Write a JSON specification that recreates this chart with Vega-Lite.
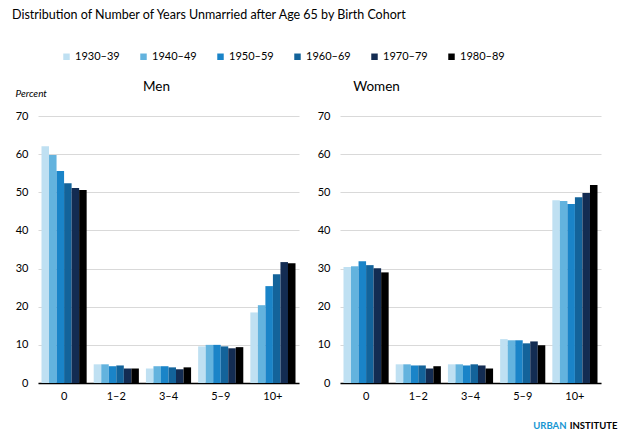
{
  "$schema": "https://vega.github.io/schema/vega-lite/v6.json",
  "padding": {"left": 12, "top": 8, "right": 4, "bottom": 2},
  "config": {
    "font": "Lato",
    "view": {"stroke": null},
    "axis": {"labelFont": "Lato", "labelFontSize": 11, "labelColor": "#000000", "titleFont": "Lato", "titleColor": "#000000"},
    "title": {"font": "Lato", "color": "#000000"},
    "legend": {"labelFont": "Lato"}
  },
  "title": {"text": "Distribution of Number of Years Unmarried after Age 65 by Birth Cohort", "anchor": "start", "fontSize": 12.5, "fontWeight": "normal", "dx": -3, "offset": 30},
  "data": {"values": [
    {"gender": "Men", "years": "0", "cohort": "1930–39", "percent": 62.1},
    {"gender": "Men", "years": "0", "cohort": "1940–49", "percent": 59.8},
    {"gender": "Men", "years": "0", "cohort": "1950–59", "percent": 55.6},
    {"gender": "Men", "years": "0", "cohort": "1960–69", "percent": 52.4},
    {"gender": "Men", "years": "0", "cohort": "1970–79", "percent": 51.1},
    {"gender": "Men", "years": "0", "cohort": "1980–89", "percent": 50.6},
    {"gender": "Men", "years": "1–2", "cohort": "1930–39", "percent": 4.9},
    {"gender": "Men", "years": "1–2", "cohort": "1940–49", "percent": 4.9},
    {"gender": "Men", "years": "1–2", "cohort": "1950–59", "percent": 4.4},
    {"gender": "Men", "years": "1–2", "cohort": "1960–69", "percent": 4.6},
    {"gender": "Men", "years": "1–2", "cohort": "1970–79", "percent": 3.8},
    {"gender": "Men", "years": "1–2", "cohort": "1980–89", "percent": 3.8},
    {"gender": "Men", "years": "3–4", "cohort": "1930–39", "percent": 3.8},
    {"gender": "Men", "years": "3–4", "cohort": "1940–49", "percent": 4.4},
    {"gender": "Men", "years": "3–4", "cohort": "1950–59", "percent": 4.4},
    {"gender": "Men", "years": "3–4", "cohort": "1960–69", "percent": 4.1},
    {"gender": "Men", "years": "3–4", "cohort": "1970–79", "percent": 3.6},
    {"gender": "Men", "years": "3–4", "cohort": "1980–89", "percent": 4.1},
    {"gender": "Men", "years": "5–9", "cohort": "1930–39", "percent": 9.6},
    {"gender": "Men", "years": "5–9", "cohort": "1940–49", "percent": 10.0},
    {"gender": "Men", "years": "5–9", "cohort": "1950–59", "percent": 10.0},
    {"gender": "Men", "years": "5–9", "cohort": "1960–69", "percent": 9.6},
    {"gender": "Men", "years": "5–9", "cohort": "1970–79", "percent": 9.1},
    {"gender": "Men", "years": "5–9", "cohort": "1980–89", "percent": 9.4},
    {"gender": "Men", "years": "10+", "cohort": "1930–39", "percent": 18.5},
    {"gender": "Men", "years": "10+", "cohort": "1940–49", "percent": 20.4},
    {"gender": "Men", "years": "10+", "cohort": "1950–59", "percent": 25.4},
    {"gender": "Men", "years": "10+", "cohort": "1960–69", "percent": 28.5},
    {"gender": "Men", "years": "10+", "cohort": "1970–79", "percent": 31.7},
    {"gender": "Men", "years": "10+", "cohort": "1980–89", "percent": 31.4},
    {"gender": "Women", "years": "0", "cohort": "1930–39", "percent": 30.4},
    {"gender": "Women", "years": "0", "cohort": "1940–49", "percent": 30.6},
    {"gender": "Women", "years": "0", "cohort": "1950–59", "percent": 31.9},
    {"gender": "Women", "years": "0", "cohort": "1960–69", "percent": 30.9},
    {"gender": "Women", "years": "0", "cohort": "1970–79", "percent": 30.1},
    {"gender": "Women", "years": "0", "cohort": "1980–89", "percent": 29.0},
    {"gender": "Women", "years": "1–2", "cohort": "1930–39", "percent": 4.9},
    {"gender": "Women", "years": "1–2", "cohort": "1940–49", "percent": 4.9},
    {"gender": "Women", "years": "1–2", "cohort": "1950–59", "percent": 4.6},
    {"gender": "Women", "years": "1–2", "cohort": "1960–69", "percent": 4.6},
    {"gender": "Women", "years": "1–2", "cohort": "1970–79", "percent": 3.8},
    {"gender": "Women", "years": "1–2", "cohort": "1980–89", "percent": 4.4},
    {"gender": "Women", "years": "3–4", "cohort": "1930–39", "percent": 4.9},
    {"gender": "Women", "years": "3–4", "cohort": "1940–49", "percent": 4.9},
    {"gender": "Women", "years": "3–4", "cohort": "1950–59", "percent": 4.6},
    {"gender": "Women", "years": "3–4", "cohort": "1960–69", "percent": 4.9},
    {"gender": "Women", "years": "3–4", "cohort": "1970–79", "percent": 4.6},
    {"gender": "Women", "years": "3–4", "cohort": "1980–89", "percent": 3.8},
    {"gender": "Women", "years": "5–9", "cohort": "1930–39", "percent": 11.5},
    {"gender": "Women", "years": "5–9", "cohort": "1940–49", "percent": 11.2},
    {"gender": "Women", "years": "5–9", "cohort": "1950–59", "percent": 11.2},
    {"gender": "Women", "years": "5–9", "cohort": "1960–69", "percent": 10.4},
    {"gender": "Women", "years": "5–9", "cohort": "1970–79", "percent": 10.9},
    {"gender": "Women", "years": "5–9", "cohort": "1980–89", "percent": 9.9},
    {"gender": "Women", "years": "10+", "cohort": "1930–39", "percent": 47.9},
    {"gender": "Women", "years": "10+", "cohort": "1940–49", "percent": 47.7},
    {"gender": "Women", "years": "10+", "cohort": "1950–59", "percent": 46.9},
    {"gender": "Women", "years": "10+", "cohort": "1960–69", "percent": 48.7},
    {"gender": "Women", "years": "10+", "cohort": "1970–79", "percent": 49.8},
    {"gender": "Women", "years": "10+", "cohort": "1980–89", "percent": 51.9}
  ]},
  "spacing": 18,
  "hconcat": [
    {
      "transform": [{"filter": "datum.gender === 'Men'"}],
      "width": 261,
      "height": 267,
      "mark": {"type": "bar"},
      "encoding": {
        "x": {"field": "years", "type": "nominal", "sort": ["0", "1–2", "3–4", "5–9", "10+"],
              "scale": {"paddingInner": 0.135, "paddingOuter": 0.067},
              "axis": {"title": "Men", "titleAlign": "center", "titleBaseline": "alphabetic", "titleX": 118, "titleY": -293, "titleFontSize": 13.5, "titleFontWeight": "normal", "labelAngle": 0, "ticks": false, "domainColor": "#000000", "domainWidth": 1.5, "labelPadding": 7, "grid": false}},
        "xOffset": {"field": "cohort", "type": "nominal", "sort": ["1930–39", "1940–49", "1950–59", "1960–69", "1970–79", "1980–89"]},
        "y": {"field": "percent", "type": "quantitative", "scale": {"domain": [0, 70]},
              "axis": {"values": [0, 10, 20, 30, 40, 50, 60, 70], "title": "Percent", "titleAngle": 0, "titleAlign": "left", "titleBaseline": "alphabetic", "titleX": -23, "titleY": -20, "titleFontStyle": "italic", "titleFontWeight": "normal", "titleFontSize": 10, "domain": false, "ticks": false, "labelPadding": 10, "gridColor": "#d9d9d9"}},
        "color": {"field": "cohort", "type": "nominal",
                  "scale": {"domain": ["1930–39", "1940–49", "1950–59", "1960–69", "1970–79", "1980–89"], "range": ["#bfe0f2", "#63b3de", "#1a84c8", "#13639a", "#132c52", "#000000"]},
                  "legend": {"title": null, "orient": "none", "direction": "horizontal", "columns": 6, "legendX": 23, "legendY": -65, "symbolType": "square", "symbolSize": 42, "symbolStrokeWidth": 0, "labelFontSize": 11, "labelOffset": 3, "columnPadding": 18, "labelColor": "#000000"}}
      }
    },
    {
      "transform": [{"filter": "datum.gender === 'Women'"}],
      "title": {"text": "Women", "fontSize": 13.5, "fontWeight": "normal", "dx": -94, "offset": 17},
      "width": 261,
      "height": 267,
      "mark": {"type": "bar"},
      "encoding": {
        "x": {"field": "years", "type": "nominal", "sort": ["0", "1–2", "3–4", "5–9", "10+"],
              "scale": {"paddingInner": 0.135, "paddingOuter": 0.067},
              "axis": {"title": "INSTITUTE", "titleAlign": "right", "titleBaseline": "alphabetic", "titleX": 277, "titleY": 45, "titleFontSize": 9.5, "titleFontWeight": "bold", "labelAngle": 0, "ticks": false, "domainColor": "#000000", "domainWidth": 1.5, "labelPadding": 7, "grid": false}},
        "xOffset": {"field": "cohort", "type": "nominal", "sort": ["1930–39", "1940–49", "1950–59", "1960–69", "1970–79", "1980–89"]},
        "y": {"field": "percent", "type": "quantitative", "scale": {"domain": [0, 70]},
              "axis": {"values": [0, 10, 20, 30, 40, 50, 60, 70], "title": "URBAN", "titleAngle": 0, "titleAlign": "right", "titleBaseline": "alphabetic", "titleX": 226, "titleY": 312, "titleColor": "#1696d2", "titleFontSize": 9.5, "titleFontWeight": "bold", "domain": false, "ticks": false, "labelPadding": 10, "gridColor": "#d9d9d9"}},
        "color": {"field": "cohort", "type": "nominal",
                  "scale": {"domain": ["1930–39", "1940–49", "1950–59", "1960–69", "1970–79", "1980–89"], "range": ["#bfe0f2", "#63b3de", "#1a84c8", "#13639a", "#132c52", "#000000"]},
                  "legend": {"title": null, "orient": "none", "direction": "horizontal", "columns": 6, "legendX": 23, "legendY": -65, "symbolType": "square", "symbolSize": 42, "symbolStrokeWidth": 0, "labelFontSize": 11, "labelOffset": 3, "columnPadding": 18, "labelColor": "#000000"}}
      }
    }
  ]
}
